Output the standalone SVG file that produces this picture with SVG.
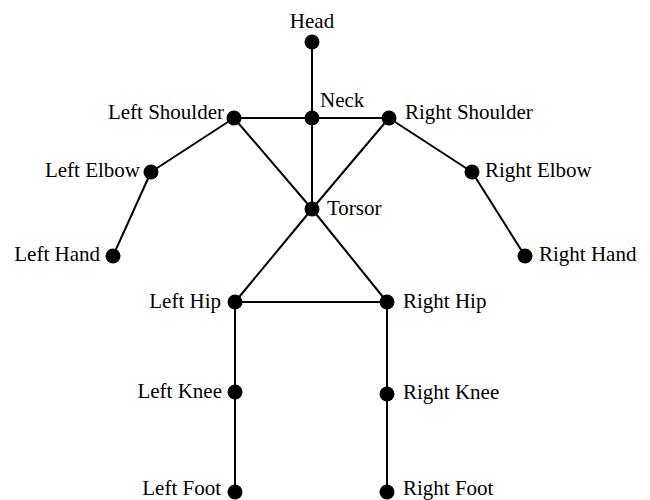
<svg xmlns="http://www.w3.org/2000/svg" width="650" height="500" viewBox="0 0 650 500">
<style>
.e{stroke:#000;stroke-width:2;fill:none}
.n{fill:#000}
text{font-family:"Liberation Serif","Times New Roman",serif;font-size:21px;fill:#000}
.l{text-anchor:end}
.m{text-anchor:middle}
</style>
<rect width="650" height="500" fill="#fff"/>
<g id="connectors" class="e">
<line x1="312" y1="42" x2="312" y2="118"/>
<line x1="234" y1="118" x2="389" y2="118"/>
<line x1="312" y1="118" x2="312" y2="209"/>
<line x1="234" y1="118" x2="312" y2="209"/>
<line x1="389" y1="118" x2="312" y2="209"/>
<line x1="234" y1="118" x2="151" y2="172"/>
<line x1="151" y1="172" x2="113" y2="256"/>
<line x1="389" y1="118" x2="472" y2="172"/>
<line x1="472" y1="172" x2="525" y2="256"/>
<line x1="312" y1="209" x2="235" y2="302"/>
<line x1="312" y1="209" x2="387" y2="302"/>
<line x1="235" y1="302" x2="387" y2="302"/>
<line x1="235" y1="302" x2="235" y2="492"/>
<line x1="387" y1="302" x2="387" y2="492"/>
</g>
<g id="head"><circle class="n" cx="312" cy="42" r="7.5"/><text class="m" x="312" y="28">Head</text></g>
<g id="neck"><circle class="n" cx="312" cy="118" r="7.5"/><text x="320" y="107">Neck</text></g>
<g id="left-shoulder"><circle class="n" cx="234" cy="118" r="7.5"/><text class="l" x="224" y="119">Left Shoulder</text></g>
<g id="right-shoulder"><circle class="n" cx="389" cy="118" r="7.5"/><text x="405" y="119">Right Shoulder</text></g>
<g id="left-elbow"><circle class="n" cx="151" cy="172" r="7.5"/><text class="l" x="140" y="177">Left Elbow</text></g>
<g id="right-elbow"><circle class="n" cx="472" cy="172" r="7.5"/><text x="485" y="177">Right Elbow</text></g>
<g id="left-hand"><circle class="n" cx="113" cy="256" r="7.5"/><text class="l" x="100" y="261">Left Hand</text></g>
<g id="right-hand"><circle class="n" cx="525" cy="256" r="7.5"/><text x="539" y="261">Right Hand</text></g>
<g id="torsor"><circle class="n" cx="312" cy="209" r="7.5"/><text x="327" y="215">Torsor</text></g>
<g id="left-hip"><circle class="n" cx="235" cy="302" r="7.5"/><text class="l" x="221" y="308">Left Hip</text></g>
<g id="right-hip"><circle class="n" cx="387" cy="302" r="7.5"/><text x="403" y="308">Right Hip</text></g>
<g id="left-knee"><circle class="n" cx="235" cy="392" r="7.5"/><text class="l" x="222" y="398">Left Knee</text></g>
<g id="right-knee"><circle class="n" cx="387" cy="394" r="7.5"/><text x="403" y="399">Right Knee</text></g>
<g id="left-foot"><circle class="n" cx="235" cy="492" r="7.5"/><text class="l" x="221" y="495">Left Foot</text></g>
<g id="right-foot"><circle class="n" cx="387" cy="492" r="7.5"/><text x="403" y="495">Right Foot</text></g>
</svg>
